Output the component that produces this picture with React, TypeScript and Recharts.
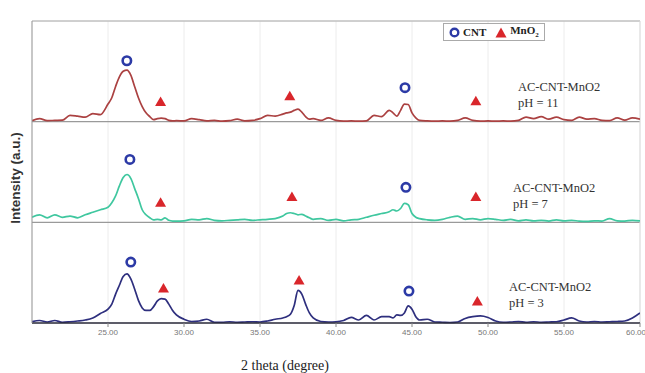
import { ComposedChart, Line, Scatter, XAxis, YAxis, CartesianGrid, ReferenceLine } from 'recharts';

// 2 theta positions (finer steps around the peaks)
const theta = [
    20, 20.5, 21, 21.5, 22, 22.5, 23, 23.5, 24, 24.5,
    25, 25.25, 25.5, 25.75, 26, 26.25, 26.5, 26.75, 27, 27.25, 27.5, 27.75, 28, 28.25, 28.5, 28.75, 29, 29.25,
    29.5, 30, 30.5, 31, 31.5, 32, 32.5, 33, 33.5, 34, 34.5, 35, 35.5, 36,
    36.5, 36.75, 37, 37.25, 37.5, 37.75, 38, 38.25,
    38.5, 39, 39.5, 40, 40.5, 41, 41.5, 42, 42.5, 43,
    43.5, 43.75, 44, 44.25, 44.5, 44.75, 45, 45.25,
    45.5, 46, 46.5, 47, 47.5, 48, 48.5, 49, 49.5, 50, 50.5, 51, 51.5, 52, 52.5, 53, 53.5, 54, 54.5, 55, 55.5, 56, 56.5, 57, 57.5, 58, 58.5, 59, 59.5, 60,
];

// intensities (a.u.) per sample, each panel is 4 units tall
const ph11 = [
    0.04, 0.12, 0.04, 0.05, 0.06, 0.25, 0.22, 0.18, 0.32, 0.28,
    0.7, 0.95, 1.4, 1.78, 2.0, 2.05, 1.85, 1.4, 0.95, 0.6, 0.35, 0.2, 0.08, 0.12, 0.14, 0.12, 0.05, 0.03,
    0.04, 0.03, 0.12, 0.08, 0.03, 0.05, 0.02, 0.04, 0.1, 0.03, 0.05, 0.12, 0.25, 0.22,
    0.3, 0.35, 0.38, 0.45, 0.5, 0.38, 0.2, 0.1,
    0.12, 0.05, 0.15, 0.05, 0.02, 0.03, 0.02, 0.03, 0.25, 0.2,
    0.45, 0.35, 0.22, 0.45, 0.7, 0.68, 0.35, 0.15,
    0.05, 0.03, 0.02, 0.03, 0.02, 0.05, 0.15, 0.05, 0.02, 0.03, 0.02, 0.03, 0.02, 0.05, 0.18, 0.12, 0.2, 0.1, 0.18, 0.08, 0.05, 0.18, 0.1, 0.12, 0.05, 0.04, 0.15, 0.06, 0.15, 0.1,
];
const ph7 = [
    0.2, 0.3, 0.18, 0.3, 0.2, 0.25, 0.18, 0.3, 0.4, 0.5,
    0.6, 0.78, 1.05, 1.45, 1.78, 1.9, 1.75, 1.35, 0.95, 0.5, 0.3, 0.18, 0.1, 0.12, 0.1, 0.18, 0.08, 0.05,
    0.05, 0.06, 0.12, 0.1, 0.15, 0.08, 0.06, 0.08, 0.1, 0.12, 0.08, 0.1, 0.12, 0.15,
    0.25, 0.35, 0.38, 0.35, 0.3, 0.32, 0.25, 0.18,
    0.12, 0.15, 0.08, 0.12, 0.06, 0.1, 0.12, 0.2, 0.28, 0.35,
    0.42, 0.5, 0.45, 0.55, 0.75, 0.7, 0.35, 0.2,
    0.15, 0.1, 0.08, 0.12, 0.2, 0.25, 0.12, 0.15, 0.1, 0.15, 0.12, 0.08, 0.12, 0.06, 0.1, 0.06, 0.08, 0.05, 0.1, 0.06, 0.08, 0.05, 0.04, 0.06, 0.05, 0.15, 0.06, 0.05, 0.08, 0.06,
];
const ph3 = [
    0.05, 0.1, 0.04, 0.1, 0.03, 0.05, 0.08, 0.12, 0.2, 0.38,
    0.55, 0.75, 1.15, 1.5, 1.85, 1.95, 1.75, 1.35, 0.9, 0.6, 0.5, 0.5, 0.65, 0.88, 0.97, 0.95, 0.75, 0.5,
    0.32, 0.15, 0.06, 0.08, 0.15, 0.03, 0.03, 0.05, 0.03, 0.04, 0.05, 0.04, 0.08, 0.15,
    0.2, 0.25, 0.35, 0.7, 1.3, 1.15, 0.75, 0.4,
    0.2, 0.06, 0.04, 0.05, 0.1, 0.22, 0.12, 0.3, 0.12, 0.25,
    0.25, 0.2, 0.32, 0.3, 0.4, 0.68, 0.55, 0.25,
    0.12, 0.15, 0.04, 0.03, 0.02, 0.04, 0.18, 0.25, 0.28, 0.22, 0.08, 0.03, 0.04, 0.06, 0.03, 0.05, 0.03, 0.04, 0.05, 0.12, 0.2, 0.08, 0.04, 0.06, 0.04, 0.05, 0.06, 0.08, 0.2, 0.4,
];

// vertical offset of each stacked panel
const offsets = { ph11: 8, ph7: 4, ph3: 0 };

// peak markers: [2 theta, height above panel base, panel]
const cntMarks: [number, number, keyof typeof offsets][] = [
    [26.24, 2.42, 'ph11'], [44.54, 1.35, 'ph11'],
    [26.44, 2.5, 'ph7'], [44.6, 1.39, 'ph7'],
    [26.5, 2.42, 'ph3'], [44.8, 1.27, 'ph3'],
];
const mnoMarks: [number, number, keyof typeof offsets][] = [
    [28.46, 0.8, 'ph11'], [36.96, 1.03, 'ph11'], [49.2, 0.83, 'ph11'],
    [28.46, 0.8, 'ph7'], [37.1, 1.03, 'ph7'], [49.2, 1.03, 'ph7'],
    [28.65, 1.39, 'ph3'], [37.57, 1.71, 'ph3'], [49.3, 0.87, 'ph3'],
];

const xTicks = [25, 30, 35, 40, 45, 50, 55, 60];
const yTicks = [0, 1, 2, 3, 4, 5, 6, 7, 8, 9, 10, 11, 12];

const sampleLabels = [
    { name: 'AC-CNT-MnO2', ph: 'pH = 11', left: 518, top: 79 },
    { name: 'AC-CNT-MnO2', ph: 'pH = 7', left: 513, top: 180 },
    { name: 'AC-CNT-MnO2', ph: 'pH = 3', left: 509, top: 279 },
];

const tableData = theta.map((t, i) => ({
    theta: t,
    ph11: ph11[i] + offsets.ph11,
    ph7: ph7[i] + offsets.ph7,
    ph3: ph3[i] + offsets.ph3,
}));
const cntData = cntMarks.map(([t, h, p]) => ({ theta: t, mark: h + offsets[p] }));
const mnoData = mnoMarks.map(([t, h, p]) => ({ theta: t, mark: h + offsets[p] }));

const Ring = (props: any) => (
    <circle cx={props.cx} cy={props.cy} r={4.2} fill="#fff" stroke="#2c3aa6" strokeWidth={2.6} />
);
const Tri = (props: any) => {
    const { cx, cy } = props;
    return <path d={`M${cx},${cy - 5} L${cx + 5.5},${cy + 4.5} L${cx - 5.5},${cy + 4.5} Z`} fill="#d9262b" />;
};

const serif = '"Liberation Serif", "Times New Roman", serif';

export default function App() {
    return (
        <div style={{ position: 'relative', width: 645, height: 373, background: '#fff' }}>
            <style>{`body{margin:0}`}</style>
            <ComposedChart width={645} height={373} data={tableData} margin={{ top: 21, right: 5, bottom: 30, left: 0 }}>
                <CartesianGrid stroke="#ececec" />
                <XAxis
                    dataKey="theta"
                    type="number"
                    domain={[20, 60]}
                    ticks={xTicks}
                    tickFormatter={(v: number) => v.toFixed(2)}
                    height={20}
                    tickSize={4}
                    axisLine={{ stroke: '#2a2a3a', strokeWidth: 1.5 }}
                    tickLine={{ stroke: '#888' }}
                    tick={{ fontSize: 8, fill: '#777', fontFamily: 'Liberation Sans, Arial' }}
                    allowDataOverflow
                />
                <YAxis
                    type="number"
                    domain={[0, 12]}
                    ticks={yTicks}
                    width={32}
                    tick={false}
                    tickSize={3}
                    axisLine={{ stroke: '#999' }}
                    tickLine={{ stroke: '#999' }}
                />
                <ReferenceLine y={4} stroke="#9a9a9a" strokeWidth={1.2} />
                <ReferenceLine y={8} stroke="#9a9a9a" strokeWidth={1.2} />
                <ReferenceLine y={12} stroke="#aaa" strokeWidth={1.2} />
                <ReferenceLine x={60} stroke="#ddd" />
                <Line type="monotone" dataKey="ph11" stroke="#ab4141" strokeWidth={1.7} dot={false} isAnimationActive={false} />
                <Line type="monotone" dataKey="ph7" stroke="#3fc79f" strokeWidth={1.7} dot={false} isAnimationActive={false} />
                <Line type="monotone" dataKey="ph3" stroke="#2e2f7e" strokeWidth={1.7} dot={false} isAnimationActive={false} />
                <Scatter name="CNT" data={cntData} dataKey="mark" shape={Ring} isAnimationActive={false} />
                <Scatter name="MnO2" data={mnoData} dataKey="mark" shape={Tri} isAnimationActive={false} />
            </ComposedChart>

            {/* legend box */}
            <div style={{
                position: 'absolute', left: 443, top: 23, height: 16, padding: '0 5px',
                border: '1px solid #aaa', background: '#fff', display: 'flex', alignItems: 'center', gap: 3,
                fontFamily: serif, fontWeight: 'bold', fontSize: 11, color: '#222',
            }}>
                <svg width={11} height={11}><circle cx={5.5} cy={5.5} r={3.8} fill="#fff" stroke="#2c3aa6" strokeWidth={2.4} /></svg>
                <span style={{ marginRight: 6 }}>CNT</span>
                <svg width={12} height={11}><path d="M6,0.5 L11.5,10.5 L0.5,10.5 Z" fill="#d9262b" /></svg>
                <span>MnO<sub style={{ fontSize: 7 }}>2</sub></span>
            </div>

            {sampleLabels.map((s, i) => (
                <div key={i} style={{ position: 'absolute', left: s.left, top: s.top, fontFamily: serif, fontSize: 12.5, lineHeight: '16px', color: '#333' }}>
                    <div>{s.name}</div>
                    <div>{s.ph}</div>
                </div>
            ))}

            <div style={{
                position: 'absolute', left: 15, top: 178, transform: 'translate(-50%, -50%) rotate(-90deg)',
                whiteSpace: 'nowrap', fontFamily: 'Liberation Sans, Arial', fontWeight: 'bold', fontSize: 13.5, color: '#333',
            }}>
                Intensity (a.u.)
            </div>
            <div style={{
                position: 'absolute', left: 285, top: 366, transform: 'translate(-50%, -50%)',
                whiteSpace: 'nowrap', fontFamily: serif, fontSize: 14, color: '#222',
            }}>
                2 theta (degree)
            </div>
        </div>
    );
}
